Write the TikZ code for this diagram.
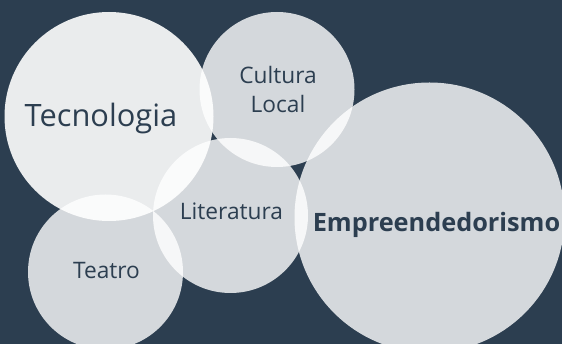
\documentclass[tikz,border=0pt]{standalone}
\usepackage{fontspec}
\setmainfont{Open Sans}
\definecolor{bgnavy}{HTML}{2C3E50}
\tikzset{
  bubble/.style={circle, fill=white, fill opacity=.8, inner sep=0pt, outer sep=0pt},
  word/.style={text=bgnavy, anchor=base, inner sep=0pt, font=\fontsize{22.7}{27}\selectfont},
}
\begin{document}
\begin{tikzpicture}[x=1pt, y=-1pt]
        \useasboundingbox (0, 0) rectangle (562, 344);
        \clip (0, 0) rectangle (562, 344);
        \fill[bgnavy] (0, 0) rectangle (562, 344);
        % bubbles
        \node[bubble, minimum size=209pt, fill opacity=.9] (tec) at (109, 116.5) {};
        \node[bubble, minimum size=155pt] (cul) at (277, 89.5) {};
        \node[bubble, minimum size=270pt] (emp) at (429.5, 217.5) {};
        \node[bubble, minimum size=155pt] (lit) at (230.5, 215.5) {};
        \node[bubble, minimum size=155pt] (tea) at (105.5, 272) {};
        % labels
        \node[word, font=\fontsize{30.8}{37}\selectfont] (teclabel) at (101, 127) {Tecnologia};
        \node[word] (cullabel) at (278, 84) {Cultura};
        \node[word] (loclabel) at (278, 113) {Local};
        \node[word] (litlabel) at (231.5, 220) {Literatura};
        \node[word] (tealabel) at (106.5, 279) {Teatro};
        \node[word, font=\fontsize{25.3}{30}\selectfont\bfseries] (emplabel) at (436.5, 232) {Empreendedorismo};
\end{tikzpicture}
\end{document}
